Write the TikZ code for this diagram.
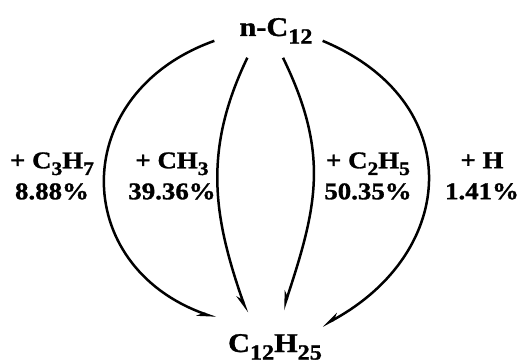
\documentclass[tikz,border=0pt]{standalone}
\usepackage{fontspec}
\usepackage{graphicx}
\setmainfont{Liberation Serif}
\newfontfamily\widefont{Liberation Serif}[FakeStretch=1.12, FakeBold=1.2]
\usetikzlibrary{arrows.meta}
\newcommand\lowsub[1]{\raisebox{-0.28em}{\scalebox{0.8}{#1}}}
\begin{document}
\begin{tikzpicture}[x=1pt,y=-1pt,
  title/.style={font=\widefont\fontsize{27}{30}\selectfont\bfseries, inner sep=0pt},
  lbl/.style={font=\widefont\fontsize{24}{31}\selectfont\bfseries, align=center, inner sep=0pt},
  conn/.style={line width=2.5pt, -{Stealth[harpoon, swap, length=15pt, width=9pt, inset=5pt]}}]
\useasboundingbox (0,0) rectangle (521,363);
\node[title, anchor=base] (top) at (276,36) {n-C\lowsub{12}};
\node[title, anchor=base] (bot) at (275,352) {C\lowsub{12}H\lowsub{25}};
% labels
\node[lbl] (l1) at (52,176) {+ C\lowsub{3}H\lowsub{7}\\8.88\%};
\node[lbl] (l2) at (172,176) {+ CH\lowsub{3}\\39.36\%};
\node[lbl] (l3) at (368,176) {+ C\lowsub{2}H\lowsub{5}\\50.35\%};
\node[lbl] (l4) at (482,176) {+ H\\1.41\%};
% connectors
\draw[conn] ([shift={(-25,10)}]top.west) .. controls (68,93) and (69,266) .. ([shift={(-12,-16)}]bot.north west);
\draw[conn] ([shift={(8,14)}]top.south west) .. controls (203,150) and (213,216) .. ([shift={(-28,-21)}]bot.north);
\draw[conn] ([shift={(7,14)}]top.south) .. controls (330,154) and (317,207) .. ([shift={(8,-24)}]bot.north);
\draw[conn] ([shift={(10,10)}]top.east) .. controls (467,101) and (459,252) .. ([shift={(0,-8)}]bot.north east);
\end{tikzpicture}
\end{document}
